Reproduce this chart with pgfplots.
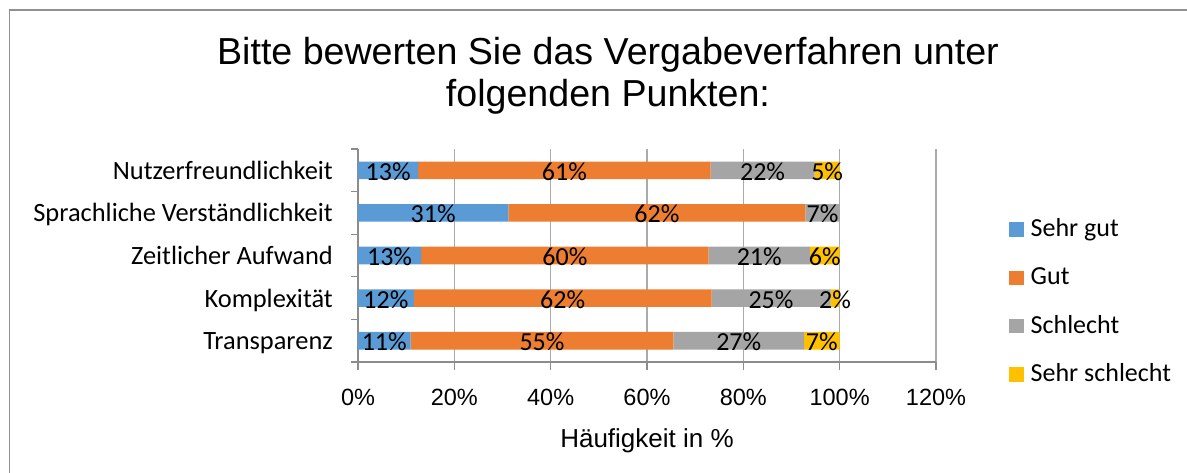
\documentclass[border=0pt]{standalone}
\usepackage{pgfplots}
\pgfplotsset{compat=1.18}
\usepackage{pgfplotstable}
\usepackage{fontspec}
\setmainfont{Liberation Sans}
\newfontfamily\calfont{Carlito}
\definecolor{sgblue}{RGB}{91,155,213}
\definecolor{gorange}{RGB}{237,125,49}
\definecolor{sgray}{RGB}{165,165,165}
\definecolor{ssyellow}{RGB}{255,192,0}
\definecolor{gridgray}{RGB}{170,170,170}
\definecolor{axisgray}{RGB}{140,140,140}
\definecolor{bordergray}{RGB}{145,145,145}

% values in percent (0 = Transparenz ... 4 = Nutzerfreundlichkeit)
\pgfplotstableread{
y sg g s ss
0 10.9 54.6 27.1 7.4
1 11.6 61.8 24.7 1.9
2 13.1 59.7 21.0 6.2
3 31.2 61.7 7.1 0
4 12.5 60.7 21.6 5.2
}\datatab

% data labels: segment centre, category, rounded value
\pgfplotstableread{
x y l
5.45 0 11
38.2 0 55
79.05 0 27
96.3 0 7
5.8 1 12
42.5 1 62
85.75 1 25
99.05 1 2
6.55 2 13
42.95 2 60
83.3 2 21
96.9 2 6
15.6 3 31
62.05 3 62
96.45 3 7
6.25 4 13
42.85 4 61
84.0 4 22
97.4 4 5
}\labtab

\pgfplotsset{
  sq/.style={legend image code/.code={\fill[##1] (0pt,-7.35pt) rectangle (14.7pt,7.35pt);}},
}

\begin{document}
\begin{tikzpicture}
\useasboundingbox (0pt,0pt) rectangle (1187pt,-473pt);
\draw[bordergray, line width=1.3pt] (9.5pt,-490pt) -- (9.5pt,-10pt) -- (1200pt,-10pt);
\node[anchor=base, inner sep=0pt, font=\fontsize{37.6}{42}\selectfont] at (608pt,-65pt) {Bitte bewerten Sie das Vergabeverfahren unter};
\node[anchor=base, inner sep=0pt, font=\fontsize{37.6}{42}\selectfont] at (608pt,-107pt) {folgenden Punkten:};

\begin{axis}[
  at={(358pt,-362pt)}, anchor=south west,
  width=578pt, height=213pt, scale only axis,
  xbar stacked, bar width=17.6pt,
  xmin=0, xmax=120, ymin=-0.5, ymax=4.5,
  axis lines*=left,
  axis line style={draw=axisgray, line width=1.2pt, -},
  xtick={0,20,40,60,80,100,120},
  xticklabels={0\%,20\%,40\%,60\%,80\%,100\%,120\%},
  ytick={0,1,2,3,4},
  yticklabels={Transparenz,Komplexität,Zeitlicher Aufwand,Sprachliche Verständlichkeit,Nutzerfreundlichkeit},
  minor ytick={-0.5,0.5,1.5,2.5,3.5,4.5},
  tick align=outside,
  major tick length=8pt,
  minor tick length=7pt,
  every tick/.style={axisgray, line width=1.2pt},
  major y tick style={draw=none},
  xmajorgrids,
  grid style={gridgray, line width=1.2pt},
  xticklabel style={font=\fontsize{23.5}{28}\selectfont, anchor=base, inner sep=0pt, yshift=-35pt},
  yticklabel style={font=\calfont\fontsize{26.4}{30}\selectfont, anchor=base east, inner sep=0pt, xshift=-17pt, yshift=-9pt},
  xlabel={Häufigkeit in \%},
  xlabel style={font=\fontsize{26}{30}\selectfont, at={(axis description cs:0.5,0)}, anchor=base, inner sep=0pt, yshift=-85pt},
  legend style={at={(1.1263,0.2817)}, anchor=west, draw=none, fill=none, inner sep=0pt, outer sep=0pt,
    row sep=24.2pt, column sep=7pt,
    nodes={inner sep=0pt, text height=19pt, text depth=5pt, font=\calfont\fontsize{26}{30}\selectfont}},
  legend cell align=left,
  clip=false,
]
\addplot[fill=sgblue, draw=none, sq] table[x=sg, y=y] {\datatab};
\addplot[fill=gorange, draw=none, sq] table[x=g, y=y] {\datatab};
\addplot[fill=sgray, draw=none, sq] table[x=s, y=y] {\datatab};
\addplot[fill=ssyellow, draw=none, sq] table[x=ss, y=y] {\datatab};
\legend{Sehr gut,Gut,Schlecht,Sehr schlecht}
\end{axis}

\begin{axis}[
  at={(358pt,-362pt)}, anchor=south west,
  width=578pt, height=213pt, scale only axis,
  xmin=0, xmax=120, ymin=-0.5, ymax=4.5,
  hide axis, clip=false,
]
\addplot[draw=none, mark=none,
  nodes near coords={\pgfplotspointmeta\%},
  point meta=explicit symbolic,
  nodes near coords align=center,
  every node near coord/.append style={anchor=base, inner sep=0pt, yshift=-10pt, font=\calfont\fontsize{26}{30}\selectfont, text=black}]
  table[x=x, y=y, meta=l] {\labtab};
\end{axis}
\end{tikzpicture}
\end{document}
